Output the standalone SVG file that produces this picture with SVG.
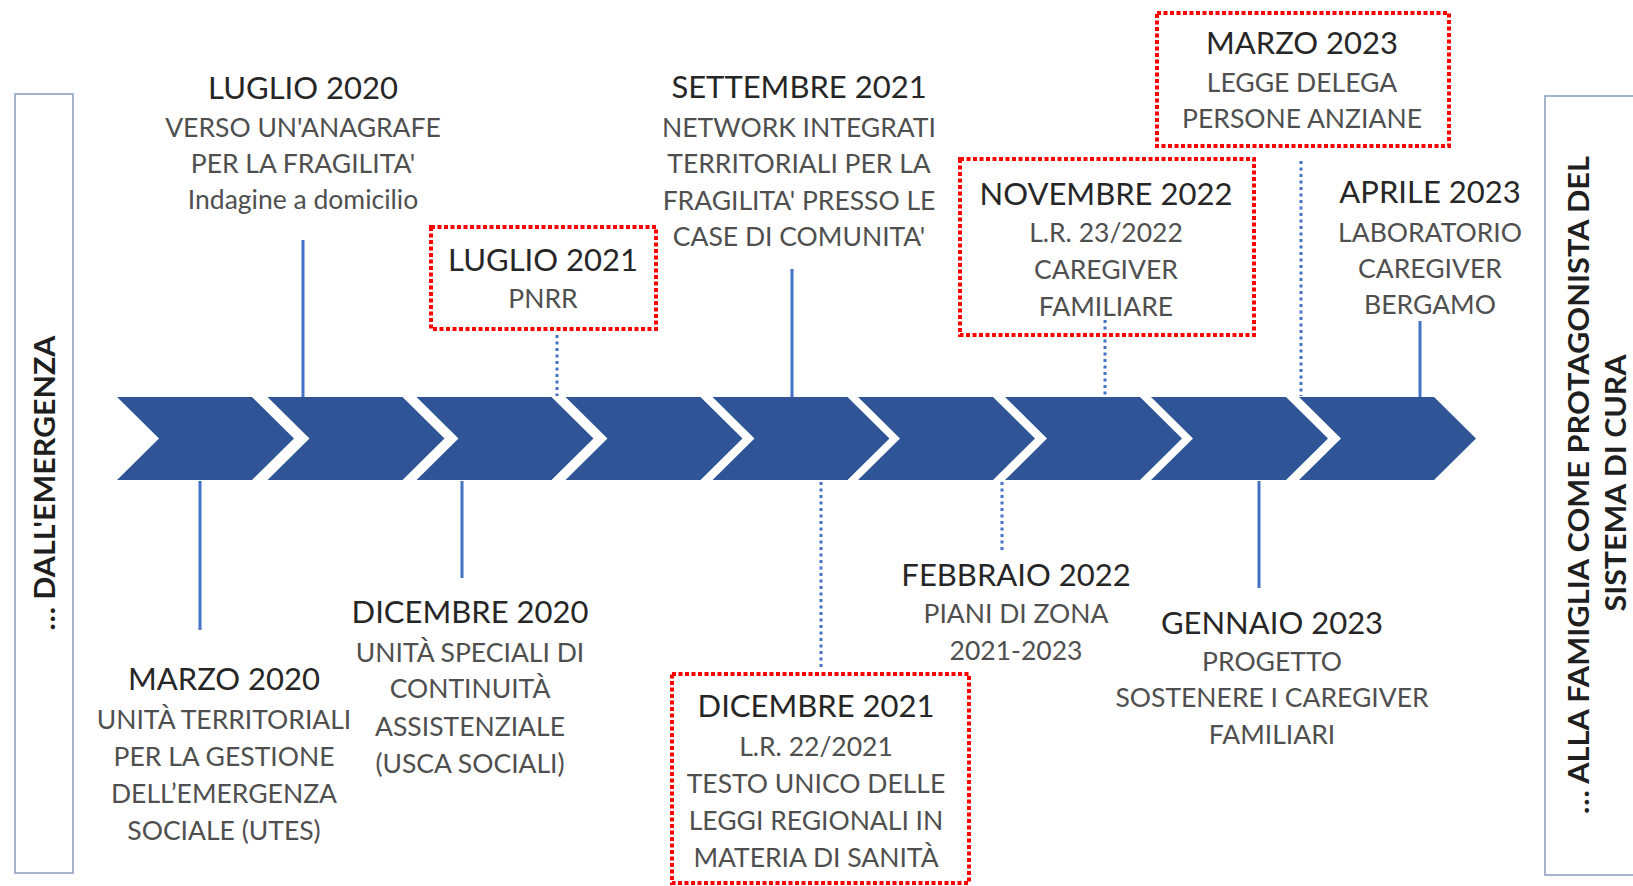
<svg xmlns="http://www.w3.org/2000/svg" width="1633" height="886" viewBox="0 0 1633 886">
<style>
  .t{font-family:Lato,"Liberation Sans",sans-serif;font-size:31px;fill:#262626;text-anchor:middle}
  .s{font-family:Lato,"Liberation Sans",sans-serif;font-size:26.5px;fill:#4f4f4f;text-anchor:middle}
  .side{font-family:Lato,"Liberation Sans",sans-serif;font-size:28px;font-weight:bold;fill:#1f1f1f;text-anchor:middle}
  .red{fill:none;stroke:#ff0000;stroke-width:4;stroke-dasharray:4 2.5}
  .solid{stroke:#4472c4;stroke-width:3;fill:none}
  .dot{stroke:#4472c4;stroke-width:3;fill:none;stroke-dasharray:3 3.5}
  .frame{fill:none;stroke:#8ea2be;stroke-width:1.6}
  .chev{fill:#2f5597}
</style>
<defs>
  <path id="chev" d="M0,397 L135,397 L177,438.5 L135,480 L0,480 L42,438.5 Z"/>
</defs>
<rect width="1633" height="886" fill="#ffffff"/>

<g id="frame-left">
  <rect class="frame" x="15" y="94" width="58" height="779"/>
  <text class="side" transform="translate(45,483) rotate(-90)" x="0" y="10" textLength="295" lengthAdjust="spacingAndGlyphs">… DALL'EMERGENZA</text>
</g>
<g id="frame-right">
  <rect class="frame" x="1545" y="96" width="100" height="779"/>
  <text class="side" transform="translate(1579,485) rotate(-90)" x="0" y="10" textLength="658" lengthAdjust="spacingAndGlyphs">… ALLA FAMIGLIA COME PROTAGONISTA  DEL</text>
  <text class="side" transform="translate(1616,483) rotate(-90)" x="0" y="10" textLength="257" lengthAdjust="spacingAndGlyphs">SISTEMA DI CURA</text>
</g>

<g id="timeline">
  <use href="#chev" class="chev" x="117"/>
  <use href="#chev" class="chev" x="267.5"/>
  <use href="#chev" class="chev" x="416.5"/>
  <use href="#chev" class="chev" x="565.5"/>
  <use href="#chev" class="chev" x="712.5"/>
  <use href="#chev" class="chev" x="858"/>
  <use href="#chev" class="chev" x="1005"/>
  <use href="#chev" class="chev" x="1151"/>
  <use href="#chev" class="chev" x="1299"/>
</g>

<g id="connectors">
  <line class="solid" x1="200" y1="481" x2="200" y2="630"/>
  <line class="solid" x1="303" y1="240" x2="303" y2="397"/>
  <line class="solid" x1="462" y1="481" x2="462" y2="578"/>
  <line class="dot" x1="557" y1="335" x2="557" y2="396"/>
  <line class="solid" x1="792" y1="269" x2="792" y2="397"/>
  <line class="dot" x1="821" y1="482" x2="821" y2="668"/>
  <line class="dot" x1="1002" y1="482" x2="1002" y2="550"/>
  <line class="dot" x1="1105" y1="320" x2="1105" y2="396"/>
  <line class="solid" x1="1259" y1="481" x2="1259" y2="588"/>
  <line class="dot" x1="1301" y1="161" x2="1301" y2="396"/>
  <line class="solid" x1="1420" y1="321" x2="1420" y2="397"/>
</g>

<g id="marzo-2020">
  <text class="t" x="224" y="690">MARZO 2020</text>
  <text class="s" x="224" y="729">UNITÀ TERRITORIALI</text>
  <text class="s" x="224" y="766">PER LA GESTIONE</text>
  <text class="s" x="224" y="803">DELL’EMERGENZA</text>
  <text class="s" x="224" y="840">SOCIALE (UTES)</text>
</g>
<g id="luglio-2020">
  <text class="t" x="303" y="99">LUGLIO 2020</text>
  <text class="s" x="303" y="137">VERSO UN'ANAGRAFE</text>
  <text class="s" x="303" y="173">PER LA FRAGILITA'</text>
  <text class="s" x="303" y="209">Indagine a domicilio</text>
</g>
<g id="dicembre-2020">
  <text class="t" x="470" y="623">DICEMBRE 2020</text>
  <text class="s" x="470" y="662">UNITÀ SPECIALI DI</text>
  <text class="s" x="470" y="698">CONTINUITÀ</text>
  <text class="s" x="470" y="736">ASSISTENZIALE</text>
  <text class="s" x="470" y="773">(USCA SOCIALI)</text>
</g>
<g id="luglio-2021">
  <rect class="red" x="431" y="227" width="225" height="102"/>
  <text class="t" x="543" y="271">LUGLIO 2021</text>
  <text class="s" x="543" y="308">PNRR</text>
</g>
<g id="settembre-2021">
  <text class="t" x="799" y="98">SETTEMBRE 2021</text>
  <text class="s" x="799" y="137">NETWORK INTEGRATI</text>
  <text class="s" x="799" y="173">TERRITORIALI PER LA</text>
  <text class="s" x="799" y="210">FRAGILITA' PRESSO LE</text>
  <text class="s" x="799" y="246">CASE DI COMUNITA'</text>
</g>
<g id="dicembre-2021">
  <rect class="red" x="672" y="674" width="297" height="209"/>
  <text class="t" x="816" y="717">DICEMBRE 2021</text>
  <text class="s" x="816" y="756">L.R. 22/2021</text>
  <text class="s" x="816" y="793">TESTO UNICO DELLE</text>
  <text class="s" x="816" y="830">LEGGI REGIONALI IN</text>
  <text class="s" x="816" y="867">MATERIA DI SANITÀ</text>
</g>
<g id="febbraio-2022">
  <text class="t" x="1016" y="586">FEBBRAIO 2022</text>
  <text class="s" x="1016" y="623">PIANI DI ZONA</text>
  <text class="s" x="1016" y="660">2021-2023</text>
</g>
<g id="novembre-2022">
  <rect class="red" x="960" y="159" width="294" height="176"/>
  <text class="t" x="1106" y="205">NOVEMBRE 2022</text>
  <text class="s" x="1106" y="242">L.R. 23/2022</text>
  <text class="s" x="1106" y="279">CAREGIVER</text>
  <text class="s" x="1106" y="316">FAMILIARE</text>
</g>
<g id="gennaio-2023">
  <text class="t" x="1272" y="634">GENNAIO 2023</text>
  <text class="s" x="1272" y="671">PROGETTO</text>
  <text class="s" x="1272" y="707">SOSTENERE I CAREGIVER</text>
  <text class="s" x="1272" y="744">FAMILIARI</text>
</g>
<g id="marzo-2023">
  <rect class="red" x="1157" y="13" width="292" height="133"/>
  <text class="t" x="1302" y="54">MARZO 2023</text>
  <text class="s" x="1302" y="92">LEGGE DELEGA</text>
  <text class="s" x="1302" y="128">PERSONE ANZIANE</text>
</g>
<g id="aprile-2023">
  <text class="t" x="1430" y="203">APRILE 2023</text>
  <text class="s" x="1430" y="242">LABORATORIO</text>
  <text class="s" x="1430" y="278">CAREGIVER</text>
  <text class="s" x="1430" y="314">BERGAMO</text>
</g>
</svg>
